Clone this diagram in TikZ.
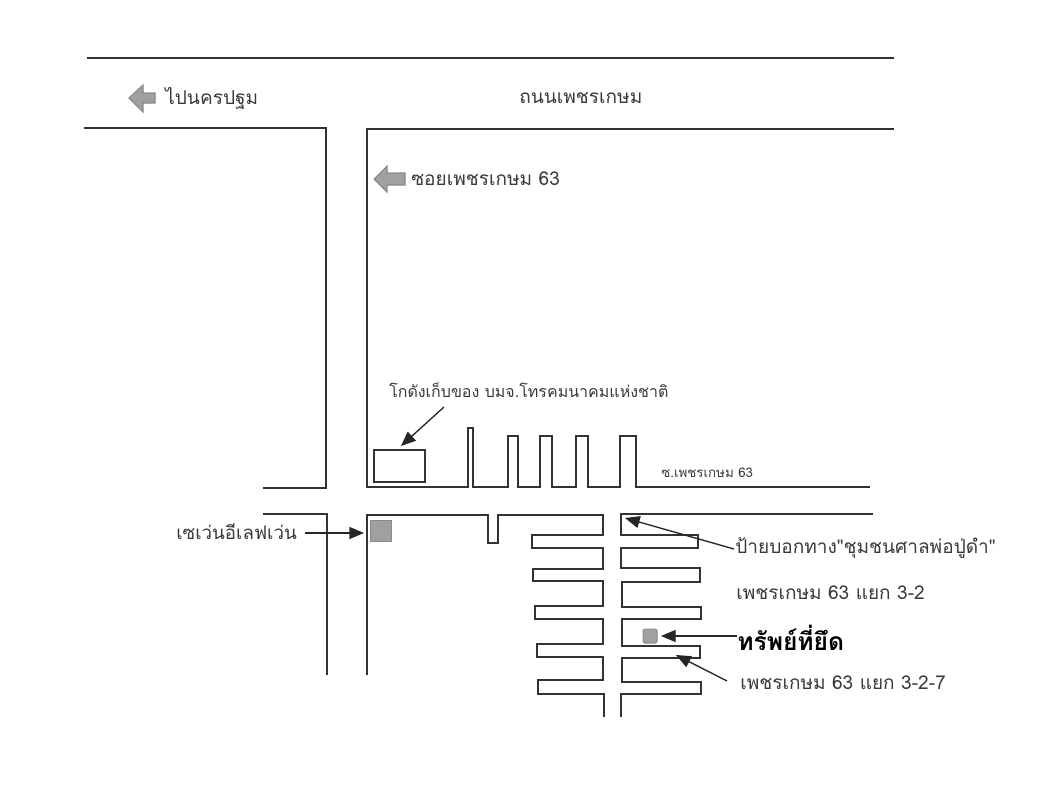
\documentclass[tikz,border=0pt]{standalone}
\usepackage{fontspec}
\setmainfont[Script=Thai]{Loma}
\setmonofont[Script=Thai]{Loma}
\usetikzlibrary{arrows.meta}
\definecolor{txt}{HTML}{3A3A3A}
\definecolor{fillg}{HTML}{A0A0A0}
\definecolor{edgeg}{HTML}{8A8A8A}
\tikzset{
  road/.style={draw=black!80,line width=1.15pt,line join=miter},
  lab/.style={anchor=west,inner sep=0pt,text=txt,font=\fontsize{14.3}{16}\selectfont},
  ptr/.style={draw=black!85,line width=1pt,-{Triangle[length=11pt,width=9pt]}},
  block/.style={draw=edgeg,fill=fillg,line width=0.8pt},
}
\begin{document}
\begin{tikzpicture}[x=0.75pt,y=-0.75pt]
\useasboundingbox (0,0) rectangle (1056,800);
% main road and soi
\draw[road] (87,58) -- (894,58);
\draw[road] (84,128) -- (326,128) -- (326,488) -- (263,488);
\draw[road] (894,129) -- (367,129) -- (367,487) -- (468,487) -- (468,428) -- (473,428) -- (473,487)
  -- (508,487) -- (508,436) -- (518,436) -- (518,487) -- (540,487) -- (540,436) -- (552,436) -- (552,487)
  -- (576,487) -- (576,436) -- (588,436) -- (588,487) -- (620,487) -- (620,436) -- (636,436) -- (636,487) -- (870,487);
\draw[road] (263,514) -- (327,514) -- (327,675);
\draw[road] (367,675) -- (367,515) -- (488,515) -- (488,543) -- (498,543) -- (498,515) -- (603,515)
  -- (603,535) -- (532,535) -- (532,548) -- (603,548) -- (603,569) -- (533,569) -- (533,581) -- (603,581)
  -- (603,606) -- (535,606) -- (535,619) -- (603,619) -- (603,644) -- (537,644) -- (537,657) -- (603,657)
  -- (603,680) -- (538,680) -- (538,694) -- (604,694) -- (604,717);
\draw[road] (873,514) -- (621,514) -- (621,535) -- (698,535) -- (698,548) -- (621,548) -- (621,568) -- (700,568)
  -- (700,582) -- (622,582) -- (622,607) -- (701,607) -- (701,619) -- (622,619) -- (622,646) -- (700,646)
  -- (700,658) -- (622,658) -- (622,682) -- (701,682) -- (701,694) -- (621,694) -- (621,717);
% buildings
\node[road,minimum width=38.500pt,minimum height=24pt,inner sep=0pt,anchor=north west] (warehouse) at (373,449) {};
\node[block,minimum width=16pt,minimum height=16pt,inner sep=0pt,anchor=north west] (seven) at (370,519.500) {};
\node[block,rounded corners=1.5pt,minimum width=10.500pt,minimum height=10.500pt,inner sep=0pt,anchor=north west] (prop) at (642.500,628.500) {};
% block arrows
\draw[block] (129,98) -- (143,85) -- (143,93) -- (155,93) -- (155,103) -- (143,103) -- (143,112) -- cycle;
\draw[block] (374,179) -- (387,166) -- (387,173) -- (405,173) -- (405,185) -- (387,185) -- (387,192) -- cycle;
% labels
\node[lab] (toNakhon) at (165,98) {ไปนครปฐม};
\node[lab] (phetRoad) at (519,98) {ถนนเพชรเกษม};
\node[lab] (soi) at (411,179) {ซอยเพชรเกษม 63};
\node[lab,font=\fontsize{12}{14}\selectfont] (wareLabel) at (389,390) {โกดังเก็บของ บมจ.โทรคมนาคมแห่งชาติ};
\node[lab,font=\fontsize{10}{12}\selectfont] (soiSmall) at (661,473) {ซ.เพชรเกษม 63};
\node[lab,font=\fontsize{14}{16}\selectfont] (sevenLabel) at (176,532) {เซเว่นอีเลฟเว่น};
\node[lab] (signLabel) at (735,548) {ป้ายบอกทาง{\ttfamily"}ชุมชนศาลพ่อปู่ดำ{\ttfamily"}};
\node[lab] (branch) at (736,593) {เพชรเกษม 63 แยก 3-2};
\node[lab,font=\fontsize{18.5}{20}\selectfont\bfseries,text=black] (propLabel) at (737,638) {ทรัพย์ที่ยึด};
\node[lab] (branchB) at (740,683) {เพชรเกษม 63 แยก 3-2-7};
% pointers
\coordinate (wareTail) at (444,407);
\coordinate (wareTip) at (401,446);
\coordinate (sevenTail) at (305,533);
\coordinate (sevenTip) at (364,533);
\coordinate (signTail) at (734,549);
\coordinate (signTip) at (625,518);
\coordinate (propTip) at (661,636);
\coordinate (propTail) at (737,636);
\coordinate (bTail) at (727,681);
\coordinate (bTip) at (676,655);
\draw[ptr] (wareTail) -- (wareTip);
\draw[ptr] (sevenTail) -- (sevenTip);
\draw[ptr] (signTail) -- (signTip);
\draw[ptr] (propTail) -- (propTip);
\draw[ptr] (bTail) -- (bTip);
\end{tikzpicture}
\end{document}
